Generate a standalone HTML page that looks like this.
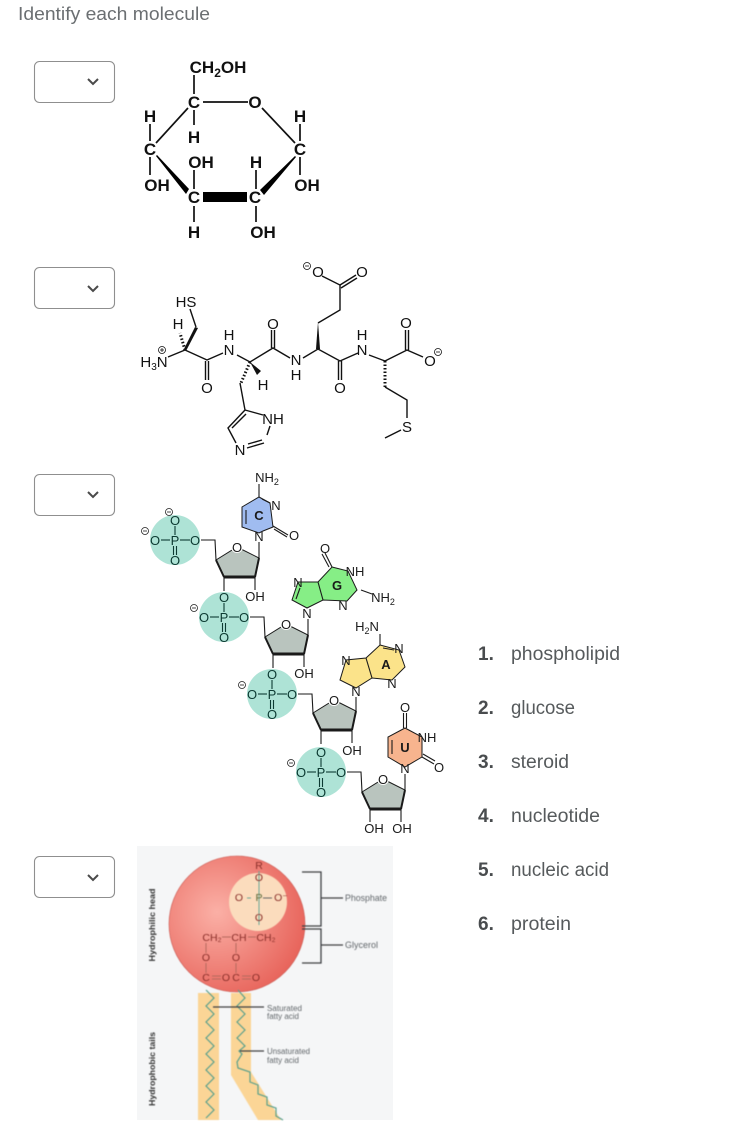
<!DOCTYPE html>
<html><head><meta charset="utf-8"><title>Identify each molecule</title>
<style>
html,body{margin:0;padding:0;background:#fff;width:739px;height:1137px;overflow:hidden}
svg{display:block}
text{font-family:"Liberation Sans",sans-serif}
.g text{font-size:17px;font-weight:bold;fill:#111;text-anchor:middle}
.g line,.m line,.m polyline{stroke:#111;stroke-width:1.4;fill:none}
.g line{stroke-width:1.7}
.m text{font-size:15px;fill:#111;text-anchor:middle}
.n text{font-size:13px;fill:#1a1a1a;text-anchor:middle}
.n line,.n polyline{stroke:#1a1a1a;stroke-width:1.1;fill:none}
.n .gr{stroke:#0c3a32;stroke-width:1.1}
.n .p text{font-size:13px;fill:#0c3a32}
.sub{font-size:9px}
.li{font-size:19px;fill:#565a5c}
.lb{font-size:19px;font-weight:bold;fill:#494c4e}
.d{fill:#fff;stroke:#8f8f8f;stroke-width:1.1}
.c{fill:none;stroke:#4a4a4a;stroke-width:2}
.soft{filter:blur(.35px)}
.blur{filter:blur(.6px)}
</style></head>
<body>
<svg width="739" height="1137" viewBox="0 0 739 1137" xmlns="http://www.w3.org/2000/svg">
<defs>
<radialGradient id="rg" gradientUnits="userSpaceOnUse" cx="217" cy="912" r="90"><stop offset="0" stop-color="#fbb0a6"/><stop offset="1" stop-color="#e8655c"/></radialGradient>
<g id="ph" class="n"><circle cx="0" cy="0" r="25" fill="#aee3d6"/>
<line class="gr" x1="0" y1="-14" x2="0" y2="-5"/><line class="gr" x1="-14" y1="0" x2="-5" y2="0"/><line class="gr" x1="5" y1="0" x2="15" y2="0"/><line class="gr" x1="-1.5" y1="6" x2="-1.5" y2="15"/><line class="gr" x1="1.5" y1="6" x2="1.5" y2="15"/>
<g class="p"><text x="0" y="5">P</text><text x="-20" y="5">O</text><text x="20" y="5">O</text><text x="0" y="-15">O</text><text x="0" y="25">O</text></g>
<circle cx="-30" cy="-9" r="3.5" fill="none" stroke="#222" stroke-width=".8"/><line x1="-32" y1="-9" x2="-28" y2="-9" style="stroke-width:.8"/>
</g>
<g id="su" class="n"><polygon points="0,0 21,-13 43,-2 39,17 8,17" fill="#b9c4be" stroke="#1a1a1a" stroke-width="1"/>
<line x1="8" y1="17" x2="39" y2="17" style="stroke-width:3"/><line x1="0" y1="0" x2="8" y2="17" style="stroke-width:2"/><line x1="43" y1="-2" x2="39" y2="17" style="stroke-width:2"/>
<circle cx="21" cy="-13" r="6" fill="#fff" stroke="none"/><text x="21" y="-8">O</text></g>
</defs>
<rect width="739" height="1137" fill="#fff"/>
<text x="18" y="20" font-size="18" fill="#6b6f72" textLength="192" lengthAdjust="spacingAndGlyphs">Identify each molecule</text>

<!-- dropdowns -->
<rect class="d" x="34.500" y="61.500" width="80" height="41" rx="5"/><polyline class="c" points="88,79 93,84 98,79"/>
<rect class="d" x="34.500" y="267.500" width="80" height="41" rx="5"/><polyline class="c" points="88,286 93,291 98,286"/>
<rect class="d" x="34.500" y="474.500" width="80" height="41" rx="5"/><polyline class="c" points="88,492 93,497 98,492"/>
<rect class="d" x="34.500" y="856.500" width="80" height="41" rx="5"/><polyline class="c" points="88,875 93,880 98,875"/>

<!-- glucose -->
<g class="g soft">
<line x1="194" y1="75" x2="194" y2="94"/><line x1="203" y1="102" x2="248" y2="102"/><line x1="262" y1="108" x2="295" y2="143"/>
<line x1="188" y1="108" x2="156" y2="143"/><line x1="194" y1="110" x2="194" y2="125"/>
<line x1="150" y1="124" x2="150" y2="141"/><line x1="150" y1="157" x2="150" y2="175"/>
<line x1="300" y1="124" x2="300" y2="141"/><line x1="300" y1="157" x2="300" y2="175"/>
<line x1="194" y1="170" x2="194" y2="189"/><line x1="256" y1="170" x2="256" y2="189"/>
<line x1="194" y1="206" x2="194" y2="222"/><line x1="256" y1="206" x2="256" y2="222"/>
<polygon points="156,156 157,155 189,189 186,194" fill="#000"/>
<polygon points="295,156 296,157 264,195 260,190" fill="#000"/>
<rect x="203" y="192" width="44" height="10" fill="#000"/>
<text x="218" y="73">CH<tspan style="font-size:12px" dy="4">2</tspan><tspan dy="-4">OH</tspan></text>
<text x="194" y="108">C</text><text x="255" y="108">O</text><text x="150" y="122">H</text><text x="300" y="122">H</text>
<text x="194" y="143">H</text><text x="150" y="155">C</text><text x="300" y="155">C</text>
<text x="201" y="168">OH</text><text x="256" y="168">H</text><text x="157" y="191">OH</text><text x="307" y="191">OH</text>
<text x="194" y="203">C</text><text x="255" y="203">C</text><text x="194" y="238">H</text><text x="263" y="238">OH</text>
</g>

<!-- peptide -->
<g class="m soft">
<polyline points="168,357 185,350 207,360 223,353"/><line x1="205.500" y1="361" x2="205.500" y2="380"/><line x1="208.500" y1="361" x2="208.500" y2="380"/>
<polygon points="184,349 186,351 198,328 195,327" fill="#111"/><line x1="196" y1="327" x2="190" y2="309"/>
<line x1="185" y1="350" x2="180" y2="333" stroke-dasharray="1.5 2" style="stroke-width:3"/>
<polyline points="237,355 250,362 273,348 290,358"/><line x1="271.500" y1="348" x2="271.500" y2="330"/><line x1="274.500" y1="348" x2="274.500" y2="330"/>
<polygon points="250,362 261,371 257,375" fill="#111"/>
<line x1="250" y1="362" x2="241" y2="383" stroke-dasharray="1.500 2" style="stroke-width:3"/>
<polyline points="240,383 245,410 228,428 236,443"/><line x1="232" y1="428" x2="246" y2="414"/>
<polyline points="247,448 264,443"/><line x1="248" y1="444" x2="262" y2="440"/><polyline points="267,435 270,426"/><line x1="245" y1="410" x2="263" y2="415"/>
<polyline points="303,358 318,349 340,361 358,353"/><polygon points="316,349 320,349 318,322" fill="#111"/>
<polyline points="318,323 340,310 340,285 322,276"/><line x1="340" y1="285" x2="356" y2="275"/><line x1="341" y1="288" x2="357" y2="278"/>
<line x1="338.500" y1="361" x2="338.500" y2="380"/><line x1="341.500" y1="361" x2="341.500" y2="380"/>
<polyline points="369,355 385,361 407,350 423,357"/><line x1="405.500" y1="350" x2="405.500" y2="330"/><line x1="408.500" y1="350" x2="408.500" y2="330"/>
<line x1="385" y1="361" x2="385" y2="387" stroke-dasharray="1.500 2" style="stroke-width:3"/>
<polyline points="385,387 407,400 407,418"/><line x1="401" y1="430" x2="385" y2="438"/>
<text x="186" y="307">HS</text><text x="178" y="329">H</text>
<text x="154" y="367">H<tspan style="font-size:10px" dy="3">3</tspan><tspan dy="-3">N</tspan></text>
<circle cx="162" cy="350" r="3.500" fill="none" stroke="#111" stroke-width=".8"/><line x1="160" y1="350" x2="164" y2="350" style="stroke-width:.8"/><line x1="162" y1="348" x2="162" y2="352" style="stroke-width:.8"/>
<text x="207" y="393">O</text><text x="229" y="340">H</text><text x="229" y="355">N</text><text x="273" y="329">O</text><text x="263" y="390">H</text>
<text x="296" y="365">N</text><text x="296" y="380">H</text><text x="340" y="393">O</text><text x="362" y="340">H</text><text x="362" y="355">N</text>
<text x="406" y="328">O</text><text x="430" y="366">O</text><text x="318" y="277">O</text><text x="362" y="277">O</text>
<circle cx="438" cy="352" r="3.500" fill="none" stroke="#111" stroke-width=".8"/><line x1="436" y1="352" x2="440" y2="352" style="stroke-width:.8"/>
<circle cx="307" cy="266" r="3.500" fill="none" stroke="#111" stroke-width=".8"/><line x1="305" y1="266" x2="309" y2="266" style="stroke-width:.8"/>
<text x="273" y="424">NH</text><text x="240" y="455">N</text><text x="407" y="432">S</text>
</g>

<!-- nucleic acid -->
<g class="n soft">
<line x1="259" y1="484" x2="259" y2="497"/>
<polygon points="259,497 270,503 273,527 263,531 259,533 242,527 242,507" fill="#a0bcf0" stroke="#1a1a1a" stroke-width="1"/>
<line x1="246" y1="510" x2="246" y2="524"/><line x1="262" y1="499" x2="270" y2="503"/><line x1="273" y1="526" x2="288" y2="535"/><line x1="274" y1="529" x2="287" y2="537"/>
<text x="267" y="482" >NH<tspan class="sub" dy="3">2</tspan></text><text x="276" y="510">N</text><text x="259" y="541">N</text><text x="294" y="540">O</text>
<text x="259" y="520" style="font-weight:bold;font-size:13px">C</text>

<line x1="259" y1="558" x2="259" y2="542"/><use href="#su" x="216" y="560"/>
<use href="#ph" x="175" y="540"/><polyline points="201,540 215,540 216,560"/>
<circle cx="169" cy="512" r="3.500" fill="none" stroke="#222" stroke-width=".8"/><line x1="167" y1="512" x2="171" y2="512" style="stroke-width:.8"/>
<line x1="224" y1="577" x2="224" y2="591"/><line x1="255" y1="577" x2="255" y2="590"/><text x="255" y="601">OH</text>

<polygon points="332,567 348,571 357,590 347,601 323,600 307,608 292,600 298,582 318,582" fill="#86ee86" stroke="#1a1a1a" stroke-width="1"/>
<line x1="318" y1="582" x2="323" y2="600"/><line x1="325" y1="553" x2="332" y2="567"/><line x1="322" y1="554" x2="329" y2="567"/>
<line x1="361" y1="590" x2="372" y2="594"/><line x1="296" y1="599" x2="300" y2="588"/>
<text x="325" y="553">O</text><text x="355" y="576">NH</text><text x="383" y="602">NH<tspan class="sub" dy="3">2</tspan></text><text x="343" y="610">N</text><text x="298" y="587">N</text><text x="307" y="618">N</text>
<text x="337" y="590" style="font-weight:bold;font-size:13px">G</text>

<line x1="308" y1="635" x2="308" y2="619"/><use href="#su" x="265" y="637"/>
<use href="#ph" x="224" y="617"/><polyline points="250,617 264,617 265,637"/>
<line x1="273" y1="654" x2="273" y2="668"/><line x1="304" y1="654" x2="304" y2="667"/><text x="304" y="678">OH</text>

<polygon points="380,645 399,650 405,667 392,680 372,678 356,688 340,680 346,660 366,658" fill="#fbe38a" stroke="#1a1a1a" stroke-width="1"/>
<line x1="366" y1="658" x2="372" y2="678"/><line x1="380" y1="645" x2="380" y2="634"/><line x1="383" y1="648" x2="394" y2="650"/>
<text x="367" y="631">H<tspan class="sub" dy="3">2</tspan><tspan dy="-3">N</tspan></text><text x="399" y="653">N</text><text x="392" y="688">N</text><text x="346" y="665">N</text><text x="356" y="696">N</text>
<text x="386" y="669" style="font-weight:bold;font-size:13px">A</text>

<line x1="356" y1="711" x2="356" y2="697"/><use href="#su" x="313" y="713"/>
<use href="#ph" x="272" y="694"/><polyline points="298,694 312,694 313,713"/>
<line x1="321" y1="730" x2="321" y2="744"/><line x1="352" y1="730" x2="352" y2="743"/><text x="352" y="755">OH</text>

<polygon points="405,728 422,737 422,757 405,767 388,757 388,737" fill="#f7b48e" stroke="#1a1a1a" stroke-width="1"/>
<line x1="392" y1="740" x2="392" y2="754"/><line x1="403.500" y1="713" x2="403.500" y2="728"/><line x1="406.500" y1="713" x2="406.500" y2="728"/>
<line x1="422" y1="757" x2="434" y2="764"/><line x1="423" y1="754" x2="435" y2="761"/>
<text x="405" y="712">O</text><text x="427" y="742">NH</text><text x="405" y="773">N</text><text x="439" y="772">O</text>
<text x="405" y="752" style="font-weight:bold;font-size:13px">U</text>

<line x1="405" y1="790" x2="405" y2="774"/><use href="#su" x="362" y="792"/>
<use href="#ph" x="321" y="772"/><polyline points="347,772 361,772 362,792"/>
<line x1="370" y1="809" x2="370" y2="822"/><line x1="401" y1="809" x2="401" y2="822"/><text x="374" y="833">OH</text><text x="402" y="833">OH</text>
</g>

<!-- phospholipid -->
<rect x="137" y="846" width="256" height="274" fill="#f5f6f7"/>
<g class="blur">
<rect x="198" y="993" width="21" height="127" fill="#fbd596"/>
<polygon points="231,993 251,993 251,1072 281,1120 258,1120 231,1075" fill="#fbd596"/>
<circle cx="237" cy="924" r="68" fill="url(#rg)" stroke="#c9574f" stroke-width=".6"/>
<circle cx="258" cy="902" r="29" fill="#fbdcbd"/>
<polyline fill="none" stroke="#5aa08c" stroke-width="1.2" points="206,990 214,998 206,1006 214,1014 206,1022 214,1030 206,1038 214,1046 206,1054 214,1062 206,1070 214,1078 206,1086 214,1094 206,1102 214,1110 206,1118"/>
<polyline fill="none" stroke="#5aa08c" stroke-width="1.2" points="238,990 245,998 237,1006 245,1014 237,1022 245,1030 237,1038 245,1046 239,1051 242,1054 237,1062 238,1068 250,1072 250,1082 258,1085 258,1094 267,1097 267,1105 276,1108 276,1116 283,1120"/>
<line x1="259" y1="871" x2="259" y2="925" stroke="#6aa898" stroke-width="1"/>
<line x1="247" y1="898" x2="251" y2="898" stroke="#6aa898"/><line x1="263" y1="898" x2="272" y2="898" stroke="#666"/>
<g font-size="10.500" fill="#8a2f2a" text-anchor="middle">
<text x="259" y="869">R</text><text x="259" y="881">O</text><text x="259" y="901" fill="#5b6a3a">P</text><text x="239" y="901">O</text><text x="281" y="901">O⁻</text><text x="259" y="921">O</text>
<text x="212" y="941">CH₂</text><text x="239" y="941">CH</text><text x="266" y="941">CH₂</text>
<text x="206" y="961">O</text><text x="236" y="961">O</text><text x="206" y="981">C</text><text x="226" y="981">O</text><text x="236" y="981">C</text><text x="256" y="981">O</text>
</g>
<g stroke="#b56a5e" stroke-width="1"><line x1="222" y1="937" x2="231" y2="937"/><line x1="248" y1="937" x2="256" y2="937"/><line x1="206" y1="943" x2="206" y2="953"/><line x1="236" y1="943" x2="236" y2="953"/><line x1="206" y1="963" x2="206" y2="973"/><line x1="236" y1="963" x2="236" y2="973"/><line x1="212" y1="976" x2="221" y2="976"/><line x1="212" y1="979" x2="221" y2="979"/><line x1="242" y1="976" x2="251" y2="976"/><line x1="242" y1="979" x2="251" y2="979"/></g>
<g fill="none" stroke="#3d3f42" stroke-width="1.300">
<polyline points="302,872 321,872 321,926 302,926"/><polyline points="302,929 321,929 321,963 302,963"/>
<line x1="321" y1="898" x2="343" y2="898"/><line x1="321" y1="945" x2="343" y2="945"/>
<line x1="213" y1="1007" x2="264" y2="1007"/><line x1="240" y1="1051" x2="264" y2="1051"/>
</g>
<g font-size="9" fill="#62676b">
<text x="345" y="901" textLength="42" lengthAdjust="spacingAndGlyphs">Phosphate</text><text x="345" y="948" textLength="33" lengthAdjust="spacingAndGlyphs">Glycerol</text>
<text x="267" y="1011" font-size="8" textLength="35" lengthAdjust="spacingAndGlyphs">Saturated</text><text x="267" y="1019" font-size="8" textLength="32" lengthAdjust="spacingAndGlyphs">fatty acid</text>
<text x="267" y="1054" font-size="8" textLength="43" lengthAdjust="spacingAndGlyphs">Unsaturated</text><text x="267" y="1063" font-size="8" textLength="32" lengthAdjust="spacingAndGlyphs">fatty acid</text>
</g>
<text transform="translate(155,925) rotate(-90)" font-size="8" font-weight="bold" fill="#333" text-anchor="middle" textLength="73" lengthAdjust="spacingAndGlyphs">Hydrophilic head</text>
<text transform="translate(155,1069) rotate(-90)" font-size="8" font-weight="bold" fill="#333" text-anchor="middle" textLength="74" lengthAdjust="spacingAndGlyphs">Hydrophobic tails</text>
</g>

<!-- list -->
<text class="lb" x="478" y="660">1.</text><text class="li" x="511" y="660" textLength="109" lengthAdjust="spacingAndGlyphs">phospholipid</text>
<text class="lb" x="478" y="714">2.</text><text class="li" x="511" y="714" textLength="64" lengthAdjust="spacingAndGlyphs">glucose</text>
<text class="lb" x="478" y="768">3.</text><text class="li" x="511" y="768" textLength="58" lengthAdjust="spacingAndGlyphs">steroid</text>
<text class="lb" x="478" y="822">4.</text><text class="li" x="511" y="822" textLength="89" lengthAdjust="spacingAndGlyphs">nucleotide</text>
<text class="lb" x="478" y="876">5.</text><text class="li" x="511" y="876" textLength="98" lengthAdjust="spacingAndGlyphs">nucleic acid</text>
<text class="lb" x="478" y="930">6.</text><text class="li" x="511" y="930" textLength="60" lengthAdjust="spacingAndGlyphs">protein</text>
</svg>
</body></html>
